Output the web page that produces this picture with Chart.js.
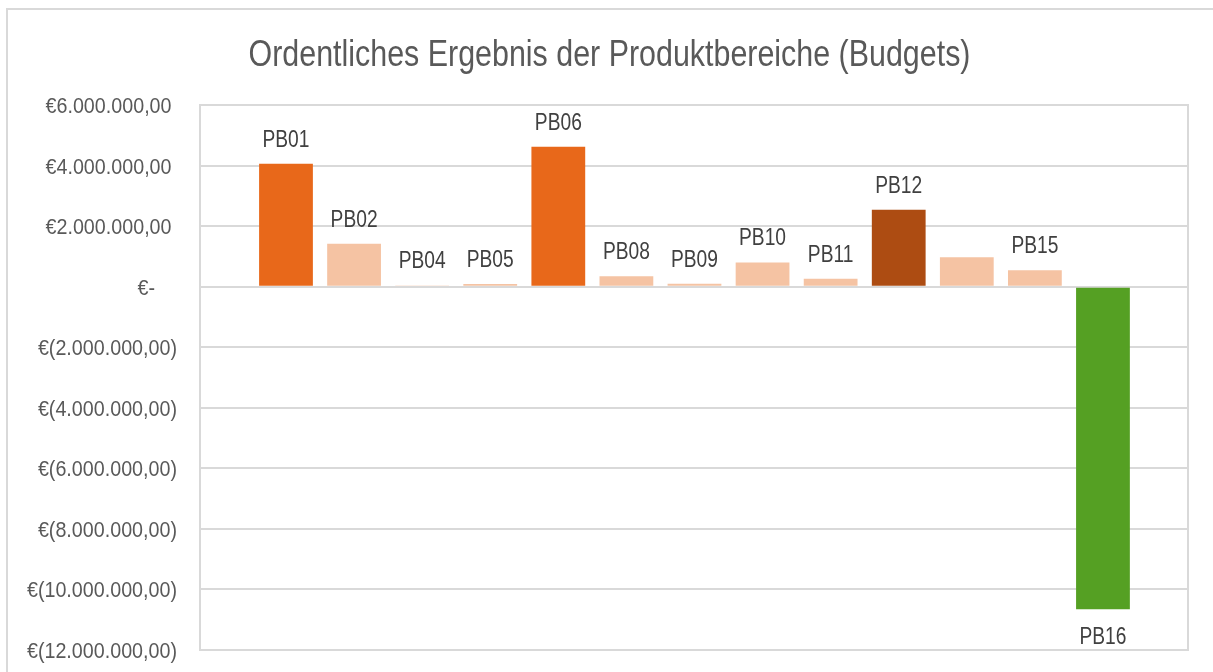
<!DOCTYPE html>
<html>
<head>
<meta charset="utf-8">
<script src="https://cdn.jsdelivr.net/npm/chart.js@4.4.1/dist/chart.umd.min.js"></script>
<style>
  html, body { margin: 0; padding: 0; background: #ffffff; }
  canvas { display: block; }
</style>
</head>
<body>
<canvas id="c" width="1213" height="672"></canvas>
<script>
// ---- data ----
const chartTitle = 'Ordentliches Ergebnis der Produktbereiche (Budgets)';
const categories = ['PB01', 'PB02', 'PB04', 'PB05', 'PB06', 'PB08', 'PB09', 'PB10', 'PB11', 'PB12', 'PB14', 'PB15', 'PB16'];
const shownLabels = ['PB01', 'PB02', 'PB04', 'PB05', 'PB06', 'PB08', 'PB09', 'PB10', 'PB11', 'PB12', '', 'PB15', 'PB16'];
const budgetValues = [4060000, 1420000, 40000, 90000, 4620000, 340000, 100000, 800000, 260000, 2540000, 970000, 540000, -10650000];
const tickValues = [-12000000, -10000000, -8000000, -6000000, -4000000, -2000000, 0, 2000000, 4000000, 6000000];
const tickLabels = ['€(12.000.000,00)', '€(10.000.000,00)', '€(8.000.000,00)', '€(6.000.000,00)', '€(4.000.000,00)', '€(2.000.000,00)', '€-\u2007\u2007', '€2.000.000,00\u2008', '€4.000.000,00\u2008', '€6.000.000,00\u2008'];

// ---- styles ----
const barColors = ['#E8681A', '#F5C3A3', '#F5C3A3', '#F5C3A3', '#E8681A', '#F5C3A3', '#F5C3A3', '#F5C3A3', '#F5C3A3', '#AD4C12', '#F5C3A3', '#F5C3A3', '#55A023'];
const FAMILY = "'Liberation Sans Narrow', 'Arial Narrow', 'Liberation Sans', Arial, sans-serif";
const gridColor = '#D9D9D9';
const TITLE_PX = 36, LABEL_PX = 23, TICK_PX = 22;

const canvas = document.getElementById('c');
const ctx = canvas.getContext('2d');
function squeeze(text, px, targetW) {
  ctx.font = px + 'px ' + FAMILY;
  return Math.min(1, targetW / ctx.measureText(text).width);
}
const titleSX = squeeze(chartTitle, TITLE_PX, 722);
const labelSX = squeeze('PB01', LABEL_PX, 47);
const tickSX = squeeze('€6.000.000,00', TICK_PX, 126);

function drawText(c, text, x, y, align, px, sx, color) {
  c.save();
  c.translate(x, y);
  c.scale(sx, 1);
  c.font = px + 'px ' + FAMILY;
  c.fillStyle = color;
  c.textAlign = align;
  c.textBaseline = 'alphabetic';
  c.fillText(text, 0, 0);
  c.restore();
}

const framePlugin = {
  id: 'frame',
  beforeDraw(chart) {
    const c = chart.ctx;
    c.save();
    c.fillStyle = '#ffffff';
    c.fillRect(0, 0, chart.width, chart.height);
    c.strokeStyle = '#D9D9D9';
    c.lineWidth = 2;
    c.strokeRect(7, 9, chart.width + 20, chart.height + 20);
    c.restore();
    drawText(c, chartTitle, 609.5, 66, 'center', TITLE_PX, titleSX, '#595959');
  },
  afterDatasetsDraw(chart) {
    const c = chart.ctx;
    const a = chart.chartArea;
    c.save();
    c.strokeStyle = gridColor;
    c.lineWidth = 2;
    c.strokeRect(a.left, a.top, a.right - a.left, a.bottom - a.top);
    c.restore();
    // y tick labels
    const ys = chart.scales.y;
    tickValues.forEach((v, k) => {
      const py = ys.getPixelForValue(v);
      drawText(c, tickLabels[k], a.left - 23, py + 8, 'right', TICK_PX, tickSX, '#595959');
    });
    // data labels
    const meta = chart.getDatasetMeta(0);
    meta.data.forEach((bar, i) => {
      const txt = shownLabels[i];
      if (!txt) return;
      const yy = budgetValues[i] >= 0 ? bar.y - 17 : bar.y + 35;
      drawText(c, txt, bar.x, yy, 'center', LABEL_PX, labelSX, '#404040');
    });
  }
};

new Chart(canvas, {
  type: 'bar',
  data: {
    datasets: [{
      data: categories.map((name, i) => ({ x: i, y: budgetValues[i] })),
      backgroundColor: barColors,
      borderWidth: 0,
      barPercentage: 0.79,
      categoryPercentage: 1.0
    }]
  },
  options: {
    responsive: false,
    animation: false,
    devicePixelRatio: 1,
    layout: { padding: { top: 105, right: 25, bottom: 22, left: 0 } },
    plugins: {
      legend: { display: false },
      title: { display: false },
      tooltip: { enabled: false }
    },
    scales: {
      x: {
        type: 'linear',
        display: false,
        offset: false,
        min: -1.263,
        max: categories.length - 1 + 1.249
      },
      y: {
        min: -12000000,
        max: 6000000,
        afterBuildTicks(scale) {
          scale.ticks = tickValues.map(v => ({ value: v }));
        },
        afterFit(scale) { scale.width = 200; },
        grid: { color: gridColor, lineWidth: 2, drawTicks: false },
        border: { display: false },
        ticks: { display: false }
      }
    }
  },
  plugins: [framePlugin]
});
</script>
</body>
</html>
